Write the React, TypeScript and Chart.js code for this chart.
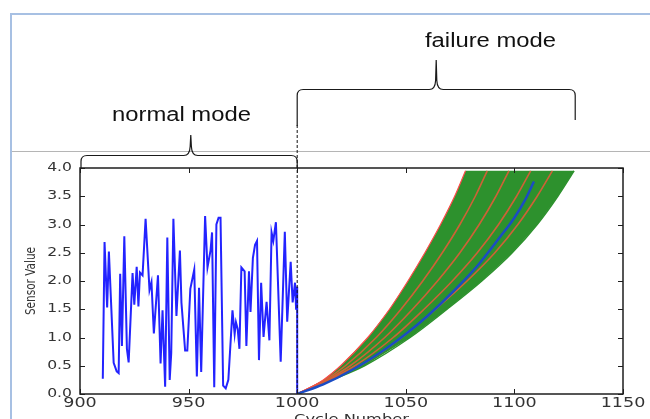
import React, { useEffect, useRef } from 'react';
import { Chart, registerables } from 'chart.js';

Chart.register(...registerables);

// ---- axis ticks ----
const xTickValues = [900, 950, 1000, 1050, 1100, 1150];
const xTickLabels = ['900', '950', '1000', '1050', '1100', '1150'];
const yTickValues = [0, 0.5, 1, 1.5, 2, 2.5, 3, 3.5, 4];
const yTickLabels = ['0.0', '0.5', '1.0', '1.5', '2.0', '2.5', '3.0', '3.5', '4.0'];

// ---- normal mode sensor trace ----
const normalX = [910.5, 911.3, 912.5, 913.3, 915.5, 916.9, 917.8, 918.5, 919.3, 920.4, 921.6, 922.4, 924.2, 925, 926.1, 926.9, 927.6, 928.8, 930.2, 932, 932.9, 934, 935.9, 937.1, 938, 939.2, 940.2, 941.3, 942, 943, 944.4, 946, 946.7, 948.4, 949.4, 950.8, 952.6, 953.8, 954.8, 955.8, 957.6, 958.7, 960.1, 960.8, 961.8, 962.8, 963.8, 964.7, 965.9, 967.1, 968.3, 970.2, 971.2, 971.8, 972.6, 973.4, 974.3, 975.8, 976.6, 977.8, 978.5, 979.6, 980.6, 981.5, 982.4, 983.4, 984.5, 985.9, 987.2, 988.2, 989, 990.2, 992.4, 994.3, 995.4, 997, 997.9, 999, 999.5, 1000, 1000];
const normalY = [0.27, 2.69, 1.53, 2.52, 0.55, 0.4, 0.37, 2.13, 0.85, 2.79, 0.8, 0.56, 2.14, 1.58, 2.25, 1.55, 2.15, 2.1, 3.1, 1.84, 1.98, 1.07, 2.1, 0.54, 1.48, 0.13, 2.77, 0.25, 0.72, 3.1, 1.38, 2.54, 1.62, 0.77, 0.77, 1.86, 2.2, 0.31, 1.88, 0.39, 3.15, 2.24, 2.54, 2.86, 0.12, 3.0, 3.12, 3.12, 0.15, 0.1, 0.25, 1.48, 1.06, 1.27, 1.15, 0.8, 2.24, 2.17, 0.85, 2.17, 1.45, 2.41, 2.64, 2.71, 0.6, 1.97, 1.01, 1.63, 0.95, 2.86, 2.71, 3.04, 0.57, 2.87, 1.28, 2.34, 1.62, 1.97, 1.49, 1.9, 0];

// ---- failure mode fan (curves sampled at common sensor levels) ----
const fanLevels = [0, 0.25, 0.5, 1, 1.5, 2, 2.5, 3, 3.5, 3.95];
const upperEdgeX = [1000, 1012, 1020, 1032.5, 1042.5, 1051, 1058.8, 1066, 1072.5, 1077.5];
const red1X = [1000, 1012.8, 1022.2, 1036.4, 1047.8, 1057.8, 1066.8, 1074.9, 1082, 1087.5];
const red2X = [1000, 1013.6, 1024.4, 1040.3, 1053.1, 1064.6, 1074.9, 1083.8, 1091.5, 1097.5];
const red3X = [1000, 1014.4, 1026.6, 1044.2, 1058.4, 1071.4, 1082.9, 1092.7, 1101, 1107.5];
const red4X = [1000, 1015.2, 1028.8, 1048.1, 1063.7, 1078.2, 1091.0, 1101.6, 1110.5, 1117.5];
const lowerEdgeX = [1000, 1016, 1031, 1052, 1069, 1085, 1099, 1110.5, 1120, 1127.5];

// ---- estimated degradation trajectory ----
const trajX = [1000, 1012, 1025, 1040, 1050, 1060, 1072, 1083, 1093, 1100, 1105, 1109];
const trajY = [0, 0.17, 0.42, 0.78, 1.06, 1.38, 1.82, 2.27, 2.76, 3.12, 3.44, 3.76];

const pts = (xs: number[], ys: number[]) => xs.map((x, i) => ({ x, y: ys[i] }));

function stretchText(ctx: CanvasRenderingContext2D, text: string, x: number, y: number, sx: number, align: CanvasTextAlign, baseline: CanvasTextBaseline) {
  ctx.save();
  ctx.translate(x, y);
  ctx.scale(sx, 1);
  ctx.textAlign = align;
  ctx.textBaseline = baseline;
  ctx.fillText(text, 0, 0);
  ctx.restore();
}

function brace(ctx: CanvasRenderingContext2D, x1: number, x2: number, xm: number, y0: number, yTip: number, yEnd1: number, yEnd2: number) {
  const r = 6;
  ctx.beginPath();
  ctx.moveTo(x1, yEnd1);
  ctx.lineTo(x1, y0 + r);
  ctx.quadraticCurveTo(x1, y0, x1 + r, y0);
  ctx.lineTo(xm - 7, y0);
  ctx.quadraticCurveTo(xm - 1, y0, xm - 0.6, y0 - 9);
  ctx.lineTo(xm, yTip);
  ctx.lineTo(xm + 0.6, y0 - 9);
  ctx.quadraticCurveTo(xm + 1, y0, xm + 7, y0);
  ctx.lineTo(x2 - r, y0);
  ctx.quadraticCurveTo(x2, y0, x2, y0 + r);
  ctx.lineTo(x2, yEnd2);
  ctx.stroke();
}

const overlay = {
  id: 'overlay',
  afterDraw(chart: any) {
    const { ctx, chartArea: a } = chart;
    const xs = chart.scales.x;
    const ys = chart.scales.y;
    const line = (x1: number, y1: number, x2: number, y2: number) => {
      ctx.beginPath(); ctx.moveTo(x1, y1); ctx.lineTo(x2, y2); ctx.stroke();
    };
    ctx.save();
    // slide frame
    ctx.strokeStyle = '#a7c0e3';
    ctx.lineWidth = 2;
    ctx.beginPath(); ctx.moveTo(11, 419); ctx.lineTo(11, 14); ctx.lineTo(650, 14); ctx.stroke();
    ctx.strokeStyle = '#b5b5b5';
    ctx.lineWidth = 1;
    line(12, 151.5, 650, 151.5);

    // dashed separator at cycle 1000
    const x1000 = xs.getPixelForValue(1000);
    ctx.strokeStyle = '#111';
    ctx.lineWidth = 1;
    ctx.setLineDash([3, 2]);
    line(x1000, 125, x1000, a.bottom);
    ctx.setLineDash([]);

    // plot frame
    ctx.strokeStyle = '#1e1e1e';
    ctx.lineWidth = 1.5;
    ctx.strokeRect(a.left, a.top, a.right - a.left, a.bottom - a.top);
    ctx.lineWidth = 1;
    for (const v of xTickValues) {
      const px = Math.round(xs.getPixelForValue(v)) + 0.5;
      line(px, a.bottom, px, a.bottom - 5);
      line(px, a.top, px, a.top + 5);
    }
    for (const v of yTickValues) {
      const py = Math.round(ys.getPixelForValue(v)) + 0.5;
      line(a.left, py, a.left + 5, py);
      line(a.right, py, a.right - 5, py);
    }

    // tick labels
    ctx.fillStyle = '#333';
    ctx.font = '12px "DejaVu Sans", sans-serif';
    yTickValues.forEach((v, i) => {
      stretchText(ctx, yTickLabels[i], 72, ys.getPixelForValue(v), 1.3, 'right', 'middle');
    });
    ctx.font = '13.5px "DejaVu Sans", sans-serif';
    xTickValues.forEach((v, i) => {
      stretchText(ctx, xTickLabels[i], xs.getPixelForValue(v), 397, 1.3, 'center', 'top');
    });
    ctx.font = '13px "DejaVu Sans", sans-serif';
    stretchText(ctx, 'Cycle Number', (a.left + a.right) / 2, 423, 1.25, 'center', 'alphabetic');
    ctx.save();
    ctx.translate(35, (a.top + a.bottom) / 2);
    ctx.rotate(-Math.PI / 2);
    ctx.scale(1, 1.3);
    ctx.font = '10.5px "DejaVu Sans", sans-serif';
    ctx.textAlign = 'center';
    ctx.textBaseline = 'alphabetic';
    ctx.fillText('Sensor Value', 0, 0);
    ctx.restore();

    // braces
    ctx.strokeStyle = '#1a1a1a';
    ctx.lineWidth = 1.2;
    brace(ctx, xs.getPixelForValue(900) + 1, x1000, xs.getPixelForValue(951), 155.5, 135, a.top, a.top);
    brace(ctx, x1000, xs.getPixelForValue(1128), xs.getPixelForValue(1064), 89.5, 60, 126, 120);

    // mode labels
    ctx.fillStyle = '#111';
    ctx.font = '20px "Liberation Sans", Arial, sans-serif';
    stretchText(ctx, 'normal mode', 112, 121, 1.19, 'left', 'alphabetic');
    stretchText(ctx, 'failure mode', 425, 46.5, 1.19, 'left', 'alphabetic');
    ctx.restore();
  },
};

export default function App() {
  const ref = useRef<HTMLCanvasElement | null>(null);
  useEffect(() => {
    document.body.style.margin = '0';
    const canvas = ref.current;
    if (!canvas) return;
    const fanPolygon = [
      ...pts(upperEdgeX, fanLevels),
      ...pts(lowerEdgeX, fanLevels).reverse(),
    ];
    const edgeLine = (xsArr: number[], color: string, w: number, order: number) => ({
      data: pts(xsArr, fanLevels),
      showLine: true,
      borderColor: color,
      borderWidth: w,
      pointRadius: 0,
      fill: false,
      cubicInterpolationMode: 'monotone' as const,
      order,
    });
    const chart = new Chart(canvas, {
      type: 'scatter',
      data: {
        datasets: [
          {
            data: pts(normalX, normalY),
            showLine: true,
            borderColor: 'rgb(35,35,255)',
            borderWidth: 2,
            pointRadius: 0,
            tension: 0,
            order: 2,
          } as any,
          {
            data: fanPolygon,
            showLine: true,
            borderColor: 'rgba(0,0,0,0)',
            borderWidth: 0,
            backgroundColor: '#2d912d',
            fill: 'shape',
            pointRadius: 0,
            tension: 0,
            order: 10,
          } as any,
          edgeLine(lowerEdgeX, '#2d912d', 1.5, 9),
          edgeLine(upperEdgeX, '#ff4a4a', 1.2, 5),
          edgeLine(red1X, 'rgba(215,95,55,0.95)', 1.6, 5),
          edgeLine(red2X, 'rgba(215,95,55,0.95)', 1.6, 5),
          edgeLine(red3X, 'rgba(215,95,55,0.95)', 1.6, 5),
          edgeLine(red4X, 'rgba(215,95,55,0.95)', 1.6, 5),
          {
            data: pts(trajX, trajY),
            showLine: true,
            borderColor: '#1a4cc4',
            borderWidth: 2.5,
            pointRadius: 0,
            cubicInterpolationMode: 'monotone',
            order: 1,
          } as any,
        ],
      },
      options: {
        animation: false,
        responsive: false,
        events: [],
        layout: { padding: { left: 80, right: 27, top: 168, bottom: 25 } },
        scales: {
          x: { type: 'linear', min: 900, max: 1150, display: false },
          y: { type: 'linear', min: 0, max: 4, display: false },
        },
        plugins: { legend: { display: false }, tooltip: { enabled: false } },
      },
      plugins: [overlay],
    });
    return () => chart.destroy();
  }, []);
  return (
    <div style={{ width: 650, height: 419, background: '#fff' }}>
      <canvas ref={ref} width={650} height={419} style={{ display: 'block' }} />
    </div>
  );
}
